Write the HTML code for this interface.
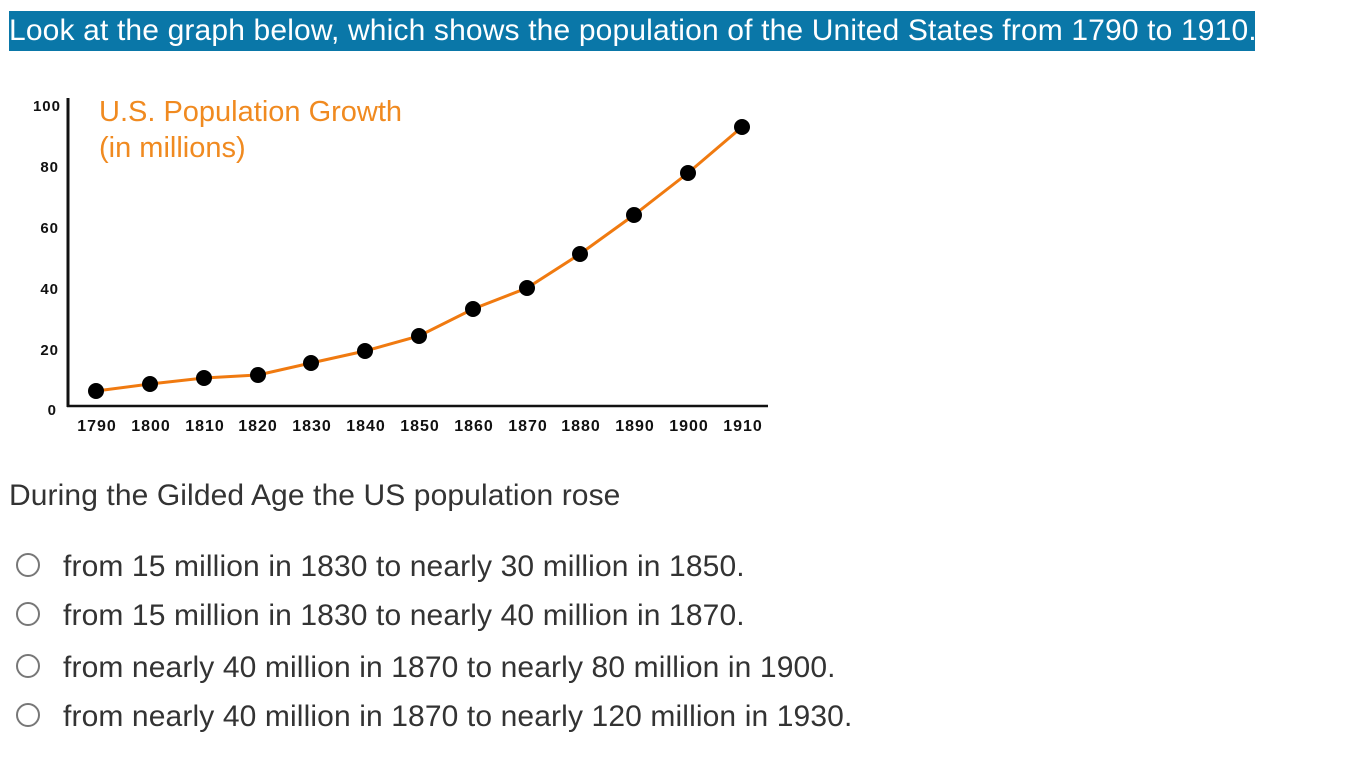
<!DOCTYPE html>
<html><head><meta charset="utf-8"><style>
body{margin:0;width:1366px;height:768px;background:#fff;font-family:"Liberation Sans",sans-serif;position:relative;overflow:hidden}
.hdr{position:absolute;left:9px;top:11px;width:1246px;height:40px;background:#0a77a8;color:#fff;font-size:30px;line-height:40px;white-space:nowrap;letter-spacing:0.15px}
.q{position:absolute;left:9px;top:479px;font-size:30px;color:#333;letter-spacing:0.1px}
.opt{position:absolute;left:63px;font-size:30px;color:#333;white-space:nowrap;letter-spacing:0.12px}
.r{position:absolute;left:16px;width:24px;height:24px;border:2px solid #777;border-radius:50%;box-sizing:border-box}
</style></head><body>
<div class="hdr">Look at the graph below, which shows the population of the United States from 1790 to 1910.</div>
<svg width="800" height="450" style="position:absolute;left:0;top:0">
<g font-family="Liberation Sans" font-size="15" fill="#111" text-anchor="end" letter-spacing="1" font-weight="bold">
<text x="61" y="111">100</text><text x="59" y="172">80</text><text x="59" y="233">60</text><text x="59" y="294">40</text><text x="59" y="355">20</text><text x="57" y="415">0</text>
</g>
<line x1="68" y1="98" x2="68" y2="407" stroke="#111" stroke-width="3"/>
<line x1="67" y1="406" x2="768" y2="406" stroke="#111" stroke-width="2.5"/>
<text x="99" y="121" font-size="29" fill="#f08a20" font-family="Liberation Sans">U.S. Population Growth</text>
<text x="99" y="157" font-size="29" fill="#f08a20" font-family="Liberation Sans">(in millions)</text>
<polyline fill="none" stroke="#f07a10" stroke-width="3" points="96,391 150,384 204,378 258,375 311,363 365,351 419,336 473,309 527,288 580,254 634,215 688,173 742,127"/>
<g fill="#000">
<circle cx="96" cy="391" r="8"/><circle cx="150" cy="384" r="8"/><circle cx="204" cy="378" r="8"/><circle cx="258" cy="375" r="8"/><circle cx="311" cy="363" r="8"/><circle cx="365" cy="351" r="8"/><circle cx="419" cy="336" r="8"/><circle cx="473" cy="309" r="8"/><circle cx="527" cy="288" r="8"/><circle cx="580" cy="254" r="8"/><circle cx="634" cy="215" r="8"/><circle cx="688" cy="173" r="8"/><circle cx="742" cy="127" r="8"/>
</g>
<g font-family="Liberation Sans" font-size="16" fill="#111" text-anchor="middle" letter-spacing="1" font-weight="bold">
<text x="97" y="431">1790</text><text x="151" y="431">1800</text><text x="205" y="431">1810</text><text x="258" y="431">1820</text><text x="312" y="431">1830</text><text x="366" y="431">1840</text><text x="420" y="431">1850</text><text x="474" y="431">1860</text><text x="528" y="431">1870</text><text x="581" y="431">1880</text><text x="635" y="431">1890</text><text x="689" y="431">1900</text><text x="743" y="431">1910</text>
</g>
</svg>
<div class="q">During the Gilded Age the US population rose</div>
<div class="r" style="top:553px"></div><div class="opt" style="top:550px">from 15 million in 1830 to nearly 30 million in 1850.</div>
<div class="r" style="top:602px"></div><div class="opt" style="top:599px">from 15 million in 1830 to nearly 40 million in 1870.</div>
<div class="r" style="top:654px"></div><div class="opt" style="top:651px">from nearly 40 million in 1870 to nearly 80 million in 1900.</div>
<div class="r" style="top:703px"></div><div class="opt" style="top:700px">from nearly 40 million in 1870 to nearly 120 million in 1930.</div>
</body></html>
